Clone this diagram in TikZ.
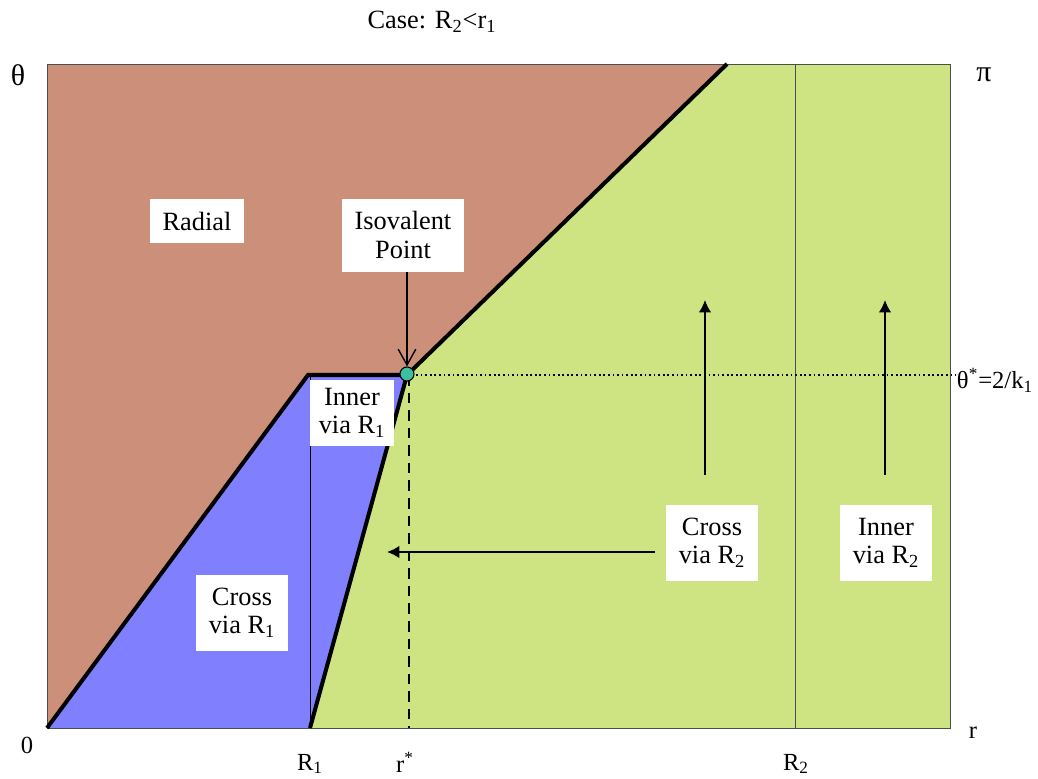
\documentclass[tikz,border=0pt]{standalone}
\usepackage{fontspec}
\setmainfont{Liberation Serif}
\usetikzlibrary{arrows.meta,positioning,calc}
\definecolor{radialbrown}{RGB}{203,143,122}
\definecolor{viablue}{RGB}{128,128,255}
\definecolor{crossgreen}{RGB}{206,228,130}
\definecolor{isoteal}{RGB}{60,190,160}

\begin{document}
\begin{tikzpicture}[x=0.02cm,y=-0.02cm,semithick,
 lbl/.style={fill=white, align=center, font=\fontsize{15}{16}\selectfont, inner xsep=7pt, inner ysep=7.5pt},
 axlbl/.style={font=\fontsize{14}{16}\selectfont, inner sep=0pt},
 bound/.style={line width=2.3pt, line join=miter},
 up/.style={-{Latex[length=7pt,width=7pt]}, thick}]
\useasboundingbox (0,0) rectangle (1038,778);
% regions
\fill[crossgreen] (47,64) rectangle (950,728);
\fill[radialbrown] (47,64) -- (727,64) -- (407,375) -- (308,375) -- (47,728) -- cycle;
\fill[viablue] (47,728) -- (308,375) -- (407,375) -- (310,728) -- cycle;
\draw[gray!60!black, thin] (47,64) rectangle (950,728);
% thin lines
\draw[thin] (310,375) -- (310,728);
\draw[thin, black!70] (795,64) -- (795,728);
\draw[dash pattern=on 1pt off 1.6pt, thick] (407,375) -- (956,375);
\draw[dash pattern=on 6pt off 4pt, line width=1.2pt] (409,375) -- (409,728);
% boundaries
\draw[bound] (47,728) -- (308,375) -- (407,375) -- (727,64);
\draw[bound] (407,375) -- (310,728);
\node[circle, draw, fill=isoteal, minimum size=8pt, inner sep=0pt] (pt) at (407,374) {};
% labels
\node[lbl] (radial) at (197,221) {Radial};
\node[lbl] (iso) at (403,235) {Isovalent\\Point};
\node[lbl, inner xsep=5pt, inner ysep=5pt] (innerA) at (352,413) {Inner\\via R\textsubscript{1}};
\node[lbl] (crossA) at (242,613) {Cross\\via R\textsubscript{1}};
\node[lbl] (crossB) at (712,543) {Cross\\via R\textsubscript{2}};
\node[lbl] (innerB) at (886,543) {Inner\\via R\textsubscript{2}};
% arrows
\draw[-{Straight Barb[length=9pt,width=10pt]}, thick] (iso.south -| pt) -- (pt);
\coordinate (crossBtop) at (705,475);
\coordinate (crossBend) at (705,300);
\coordinate (innerBtop) at (885,475);
\coordinate (innerBend) at (885,300);
\coordinate (crossBleft) at (655,552);
\coordinate (crossBtip) at (387,552);
\draw[up] (crossBtop) -- (crossBend);
\draw[up] (innerBtop) -- (innerBend);
\draw[up] (crossBleft) -- (crossBtip);
% axes
\node[font=\fontsize{15}{16}\selectfont] (title) at (432,22) {Case: R\textsubscript{2}<r\textsubscript{1}};
\node[axlbl, font=\fontsize{17}{18}\selectfont] (theta) at (18,75) {θ};
\node[axlbl, font=\fontsize{17}{18}\selectfont] (pi) at (984,75) {π};
\node[axlbl] (zero) at (27,745) {0};
\node[axlbl] (rr) at (973,733) {r};
\node[axlbl] (Rone) at (310,764) {R\textsubscript{1}};
\node[axlbl] (rstar) at (405,762) {r\textsuperscript{*}};
\node[axlbl] (Rtwo) at (796,764) {R\textsubscript{2}};
\node[axlbl] (thetastar) at (995,380) {θ\textsuperscript{*}=2/k\textsubscript{1}};
\end{tikzpicture}
\end{document}
